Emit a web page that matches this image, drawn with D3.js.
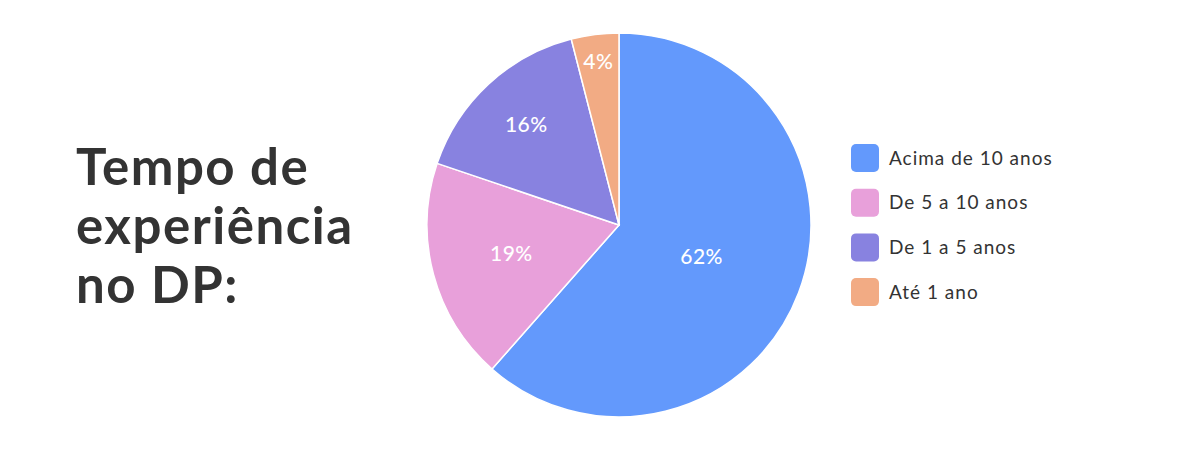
<!DOCTYPE html>
<html>
<head>
<meta charset="utf-8">
<script src="https://cdn.jsdelivr.net/npm/d3@7"></script>
<style>
  body { margin: 0; background: #fff; }
</style>
</head>
<body>
<div id="chart"></div>
<script>
const categories = ['Acima de 10 anos', 'De 5 a 10 anos', 'De 1 a 5 anos', 'Até 1 ano']
const values = [61.5, 18.7, 15.8, 4.0]
const colors = ['#6399fc', '#e8a0da', '#8882e0', '#f2ab84']
const titleLines = ['Tempo de', 'experiência', 'no DP:']

const width = 1200
const height = 450
const radius = 192
const cx = 619
const cy = 225
// label distance from the centre, as a share of the radius, per slice
const labelPos = [0.46, 0.58, 0.71, 0.86]

const svg = d3.select('#chart')
  .append('svg')
  .attr('width', width)
  .attr('height', height)
  .style('font-family', 'Lato, sans-serif')

// title
svg.append('g')
  .selectAll('text')
  .data(titleLines)
  .enter()
  .append('text')
  .attr('x', 76)
  .attr('y', (d, i) => 185 + i * 59)
  .attr('fill', '#333')
  .attr('font-size', 51)
  .attr('font-weight', 'bold')
  .attr('letter-spacing', 1.5)
  .text(d => d)

const data = categories.map((c, i) => ({ label: c, value: values[i], color: colors[i] }))

const pie = d3.pie().sort(null).value(d => d.value)
const arc = d3.arc().innerRadius(0).outerRadius(radius)

const g = svg.append('g').attr('transform', `translate(${cx},${cy})`)
const arcs = pie(data)

g.selectAll('path')
  .data(arcs)
  .enter()
  .append('path')
  .attr('d', arc)
  .attr('fill', d => d.data.color)
  .attr('stroke', '#fff')
  .attr('stroke-width', 1.5)

g.selectAll('.lbl')
  .data(arcs)
  .enter()
  .append('text')
  .attr('class', 'lbl')
  .attr('transform', (d, i) => {
    const r = radius * labelPos[i]
    const la = d3.arc().innerRadius(r).outerRadius(r)
    return `translate(${la.centroid(d)})`
  })
  .attr('text-anchor', 'middle')
  .attr('dy', '0.35em')
  .attr('fill', '#fff')
  .attr('font-size', 21)
  .attr('font-weight', 500)
  .attr('letter-spacing', 0.5)
  .text(d => Math.round(d.data.value) + '%')

// legend
const legend = svg.append('g').attr('transform', 'translate(851,144)')
const item = legend.selectAll('g')
  .data(data)
  .enter()
  .append('g')
  .attr('transform', (d, i) => `translate(0,${i * 44.7})`)

item.append('rect')
  .attr('width', 28)
  .attr('height', 28)
  .attr('rx', 5)
  .attr('fill', d => d.color)

item.append('text')
  .attr('x', 38)
  .attr('y', 14)
  .attr('dy', '0.35em')
  .attr('fill', '#333')
  .attr('font-size', 19)
  .attr('letter-spacing', 1)
  .text(d => d.label)
</script>
</body>
</html>
